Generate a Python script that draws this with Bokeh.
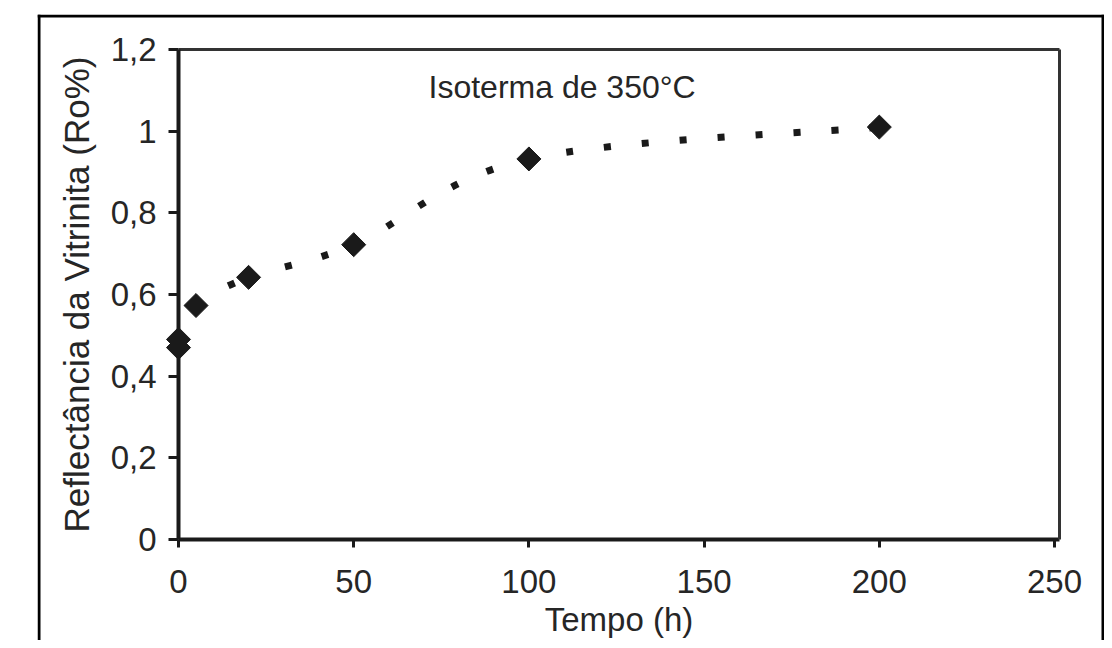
from bokeh.plotting import figure
from bokeh.models import Range1d, FixedTicker, Label, Span, LinearAxis, ColumnDataSource
from bokeh.embed import file_html
from bokeh.resources import INLINE

# ---- data ----
time_h = [0, 0, 5, 20, 50, 100, 200]
ro_pct = [0.47, 0.49, 0.573, 0.642, 0.722, 0.932, 1.01]

x_ticks = [0, 50, 100, 150, 200, 250]
y_ticks = [0, 0.2, 0.4, 0.6, 0.8, 1, 1.2]
y_tick_labels = ["0", "0,2", "0,4", "0,6", "0,8", "1", "1,2"]

title_text = "Isoterma de 350°C"
x_label = "Tempo (h)"
y_label = "Reflectância da Vitrinita (Ro%)"

# axis extents of the inner chart box
x_max = 251.4
y_max = 1.2

FONT = "Liberation Sans"
TXT = "#262626"
INK = "#1a1a1a"

# ---- layout (pixels) ----
W, H = 1104, 640
FL, FR, FT, FB = 37, 1104, 14, 640          # frame = outer panel border
X0_PX, X_PER = 178.0, 3.504                  # pixel of x=0, px per hour
Y0_PX, Y_PER = 539.0, 408.33                 # pixel of y=0, px per unit

x_start = (FL - X0_PX) / X_PER
x_end = (FR - X0_PX) / X_PER
y_end = (Y0_PX - FT) / Y_PER
y_start = (Y0_PX - FB) / Y_PER

p = figure(width=W, height=H, output_backend="svg", toolbar_location=None,
           x_range=Range1d(x_start, x_end), y_range=Range1d(y_start, y_end),
           x_axis_location=None, y_axis_location=None,
           min_border_left=FL, min_border_right=W - FR, min_border_top=FT, min_border_bottom=H - FB)
p.background_fill_color = "white"
p.border_fill_color = "white"
p.grid.visible = False
p.outline_line_color = None

xa = LinearAxis(fixed_location=0, bounds=(0, x_max), ticker=FixedTicker(ticks=x_ticks),
                axis_label=x_label)
ya = LinearAxis(fixed_location=0, bounds=(0, y_max), ticker=FixedTicker(ticks=y_ticks),
                axis_label=y_label)
ya.major_label_overrides = {v: s for v, s in zip(y_ticks, y_tick_labels)}

for ax in (xa, ya):
    ax.axis_line_color = INK
    ax.axis_line_width = 4
    ax.major_tick_line_color = INK
    ax.major_tick_line_width = 3
    ax.major_tick_in = 0
    ax.minor_tick_line_color = None
    ax.major_label_text_font = FONT
    ax.major_label_text_font_size = "33px"
    ax.major_label_text_color = TXT
    ax.axis_label_text_font = FONT
    ax.axis_label_text_font_style = "normal"
    ax.axis_label_text_color = TXT

xa.axis_label_text_font_size = "33px"
ya.axis_label_text_font_size = "35px"
xa.major_tick_out = 8
ya.major_tick_out = 10
xa.major_label_standoff = 22
ya.major_label_standoff = 12
xa.axis_label_standoff = 5
ya.axis_label_standoff = 12
p.add_layout(xa, "below")
p.add_layout(ya, "left")

# top and right edges of the inner chart box
for loc, side, bnds in ((y_max, "above", (0, x_max)), (x_max, "right", (0, y_max))):
    edge = LinearAxis(fixed_location=loc, bounds=bnds, ticker=FixedTicker(ticks=[]),
                      axis_line_color="#333333", axis_line_width=3,
                      major_tick_line_color=None, minor_tick_line_color=None,
                      major_label_text_font_size="0px")
    p.add_layout(edge, side)

# smoothed dotted trend line through the points (Catmull-Rom style Bezier segments)
n = len(time_h)
seg = dict(x0=[], y0=[], x1=[], y1=[], cx0=[], cy0=[], cx1=[], cy1=[])
for i in range(n - 1):
    pm = max(i - 1, 0)
    pn = min(i + 2, n - 1)
    seg["x0"].append(time_h[i]); seg["y0"].append(ro_pct[i])
    seg["x1"].append(time_h[i + 1]); seg["y1"].append(ro_pct[i + 1])
    seg["cx0"].append(time_h[i] + (time_h[i + 1] - time_h[pm]) / 6.0)
    seg["cy0"].append(ro_pct[i] + (ro_pct[i + 1] - ro_pct[pm]) / 6.0)
    seg["cx1"].append(time_h[i + 1] - (time_h[pn] - time_h[i]) / 6.0)
    seg["cy1"].append(ro_pct[i + 1] - (ro_pct[pn] - ro_pct[i]) / 6.0)
p.bezier(x0="x0", y0="y0", x1="x1", y1="y1", cx0="cx0", cy0="cy0", cx1="cx1", cy1="cy1",
         source=ColumnDataSource(seg), line_color=INK, line_width=7, line_dash="7 31",
         line_cap="butt")

p.scatter(time_h, ro_pct, marker="square", angle=0.785398, size=17,
          fill_color=INK, line_color=INK, line_width=1)

p.add_layout(Label(x=(428 - X0_PX) / X_PER, y=(Y0_PX - 86) / Y_PER, text=title_text,
                   text_font=FONT, text_font_size="32px", text_color=TXT,
                   text_baseline="alphabetic"))

# outer panel border (left, top, right)
p.add_layout(Span(location=x_start + 1.5 / X_PER, dimension="height",
                  line_color="black", line_width=3))
p.add_layout(Span(location=x_end - 1.5 / X_PER, dimension="height",
                  line_color="black", line_width=3))
p.add_layout(Span(location=y_end - 1.5 / Y_PER, dimension="width",
                  line_color="black", line_width=3))

open("out.html", "w").write(file_html(p, INLINE))
